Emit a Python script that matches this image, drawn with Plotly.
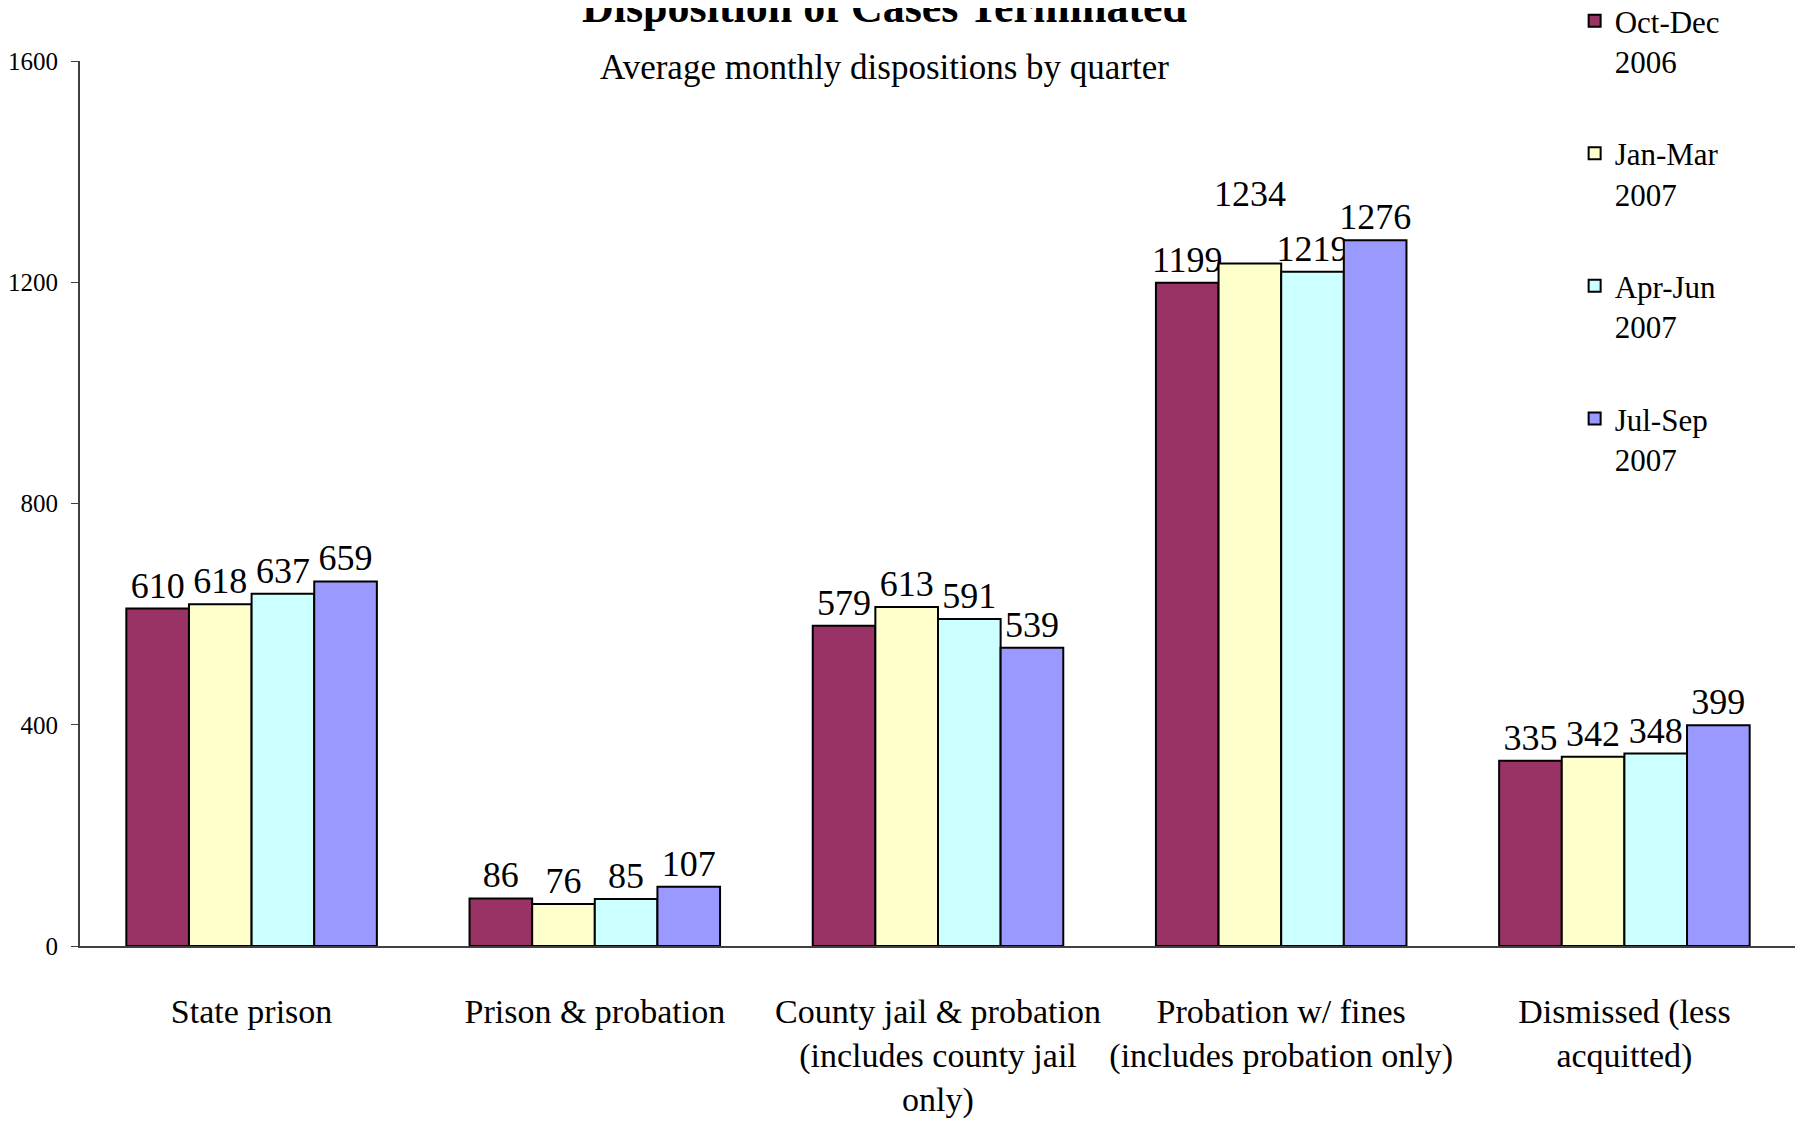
# Disposition of cases terminated - grouped bar chart
import plotly.graph_objects as go

# Categories (x axis) and quarterly series
categories = [
    "State prison",
    "Prison & probation",
    "County jail & probation<br>(includes county jail<br>only)",
    "Probation w/ fines<br>(includes probation only)",
    "Dismissed (less<br>acquitted)",
]
quarters = ["Oct-Dec<br>2006", "Jan-Mar<br>2007", "Apr-Jun<br>2007", "Jul-Sep<br>2007"]
oct_dec_2006 = [610, 86, 579, 1199, 335]
jan_mar_2007 = [618, 76, 613, 1234, 342]
apr_jun_2007 = [637, 85, 591, 1219, 348]
jul_sep_2007 = [659, 107, 539, 1276, 399]
colors = ["#993366", "#FFFFCC", "#CCFFFF", "#9999FF"]

# labels the original lifts up one line so they don't collide (series index, category index)
raised_labels = [(1, 3)]

font_family = "Liberation Serif"

fig = go.Figure()
series = [oct_dec_2006, jan_mar_2007, apr_jun_2007, jul_sep_2007]
for s, (name, vals, col) in enumerate(zip(quarters, series, colors)):
    labels = [str(v) + ("<br> " if (s, i) in raised_labels else "") for i, v in enumerate(vals)]
    fig.add_trace(go.Bar(
        x=categories, y=vals, name=name, legendgroup=name,
        marker=dict(color=col, line=dict(color="black", width=2)),
        text=labels, textposition="outside", cliponaxis=False, constraintext="none",
        textfont=dict(size=36, color="black", family=font_family),
    ))

# the page body adds an 8px offset, so margins are trimmed to compensate
fig.update_layout(
    width=1803, height=1140,
    barmode="group", bargap=0.27, bargroupgap=0,
    plot_bgcolor="white", paper_bgcolor="white",
    font=dict(family=font_family, color="black"),
    margin=dict(l=72, r=15, t=53, b=202, autoexpand=False),
    legend=dict(x=0.871, xanchor="left", y=1 + 67 / 885, yanchor="top",
                font=dict(size=31, family=font_family), tracegroupgap=49, valign="top",
                bgcolor="rgba(0,0,0,0)", itemwidth=30),
    showlegend=True,
)

# Title (partly cut at the top edge, as in the original) and subtitle
fig.add_annotation(text="<b>Disposition of Cases Terminated</b>", xref="paper", yref="paper",
                   x=0.469, y=1 + 54 / 885, yanchor="middle", showarrow=False,
                   font=dict(size=44, family=font_family))
fig.add_annotation(text="Average monthly dispositions by quarter", xref="paper", yref="paper",
                   x=0.469, y=1 - 6 / 885, yanchor="middle", showarrow=False,
                   font=dict(size=35, family=font_family))

fig.update_yaxes(range=[0, 1600], dtick=400, showgrid=False, showline=True, linecolor="#404040",
                 linewidth=2, ticks="outside", ticklen=7, tickcolor="#404040", automargin=False,
                 ticklabelstandoff=8, tickfont=dict(size=25, family=font_family), zeroline=False)
fig.update_xaxes(showline=True, linecolor="#404040", linewidth=2, ticks="", showgrid=False,
                 automargin=False, ticklabelstandoff=34,
                 tickfont=dict(size=34, family=font_family))

fig.write_html("out.html")
